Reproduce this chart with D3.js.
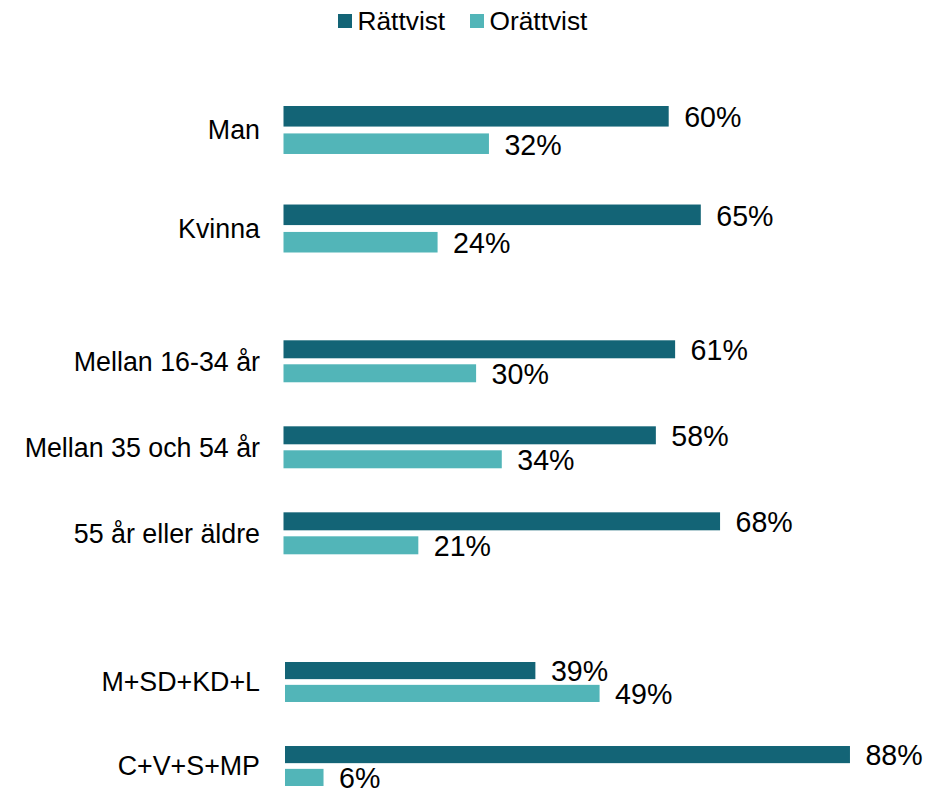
<!DOCTYPE html>
<html>
<head>
<meta charset="utf-8">
<script src="https://cdn.jsdelivr.net/npm/d3@7"></script>
<style>
  body { margin: 0; background: #fff; }
  text { font-family: "Liberation Sans", Arial, sans-serif; fill: #000; }
</style>
</head>
<body>
<script>
// data
const kategorier = ["Man", "Kvinna", "Mellan 16-34 år", "Mellan 35 och 54 år", "55 år eller äldre", "M+SD+KD+L", "C+V+S+MP"]
const grupp = [0, 0, 1, 1, 1, 2, 2]
const rattvist = [60, 65, 61, 58, 68, 39, 88]
const orattvist = [32, 24, 30, 34, 21, 49, 6]
const serier = ["Rättvist", "Orättvist"]
const farger = ["#136476", "#52b5b8"]

const width = 949, height = 790

// each group is its own small panel
const paneler = [
    {top: 106, bottom: 252.5, left: 283.5, pad: 0.513},
    {top: 340.3, bottom: 554.3, left: 283.5, pad: 0.512},
    {top: 662, bottom: 786, left: 285, pad: 0.524}
]

const svg = d3.select("body")
    .append("svg")
        .attr("width", width)
        .attr("height", height)

const x = d3.scaleLinear()
    .domain([0, 100])
    .range([0, 642])

const color = d3.scaleOrdinal().domain(serier).range(farger)

paneler.forEach(function (p, gi) {
    const rader = kategorier
        .map((k, i) => ({kat: k, Rättvist: rattvist[i], Orättvist: orattvist[i], g: grupp[i]}))
        .filter(d => d.g == gi)

    const y0 = d3.scaleBand()
        .domain(rader.map(d => d.kat))
        .range([p.top, p.bottom])
        .paddingInner(p.pad)
        .paddingOuter(0)

    const y1 = d3.scaleBand()
        .domain(serier)
        .range([0, y0.bandwidth()])
        .paddingInner(0.25)

    const g = svg.append("g")

    // category labels
    g.selectAll(".kat")
        .data(rader)
        .join("text")
            .attr("class", "kat")
            .attr("x", 260)
            .attr("y", d => y0(d.kat) + y0.bandwidth() / 2)
            .attr("dy", "0.35em")
            .attr("text-anchor", "end")
            .style("font-size", "26.8px")
            .text(d => d.kat)

    const rad = g.selectAll(".rad")
        .data(rader)
        .join("g")
            .attr("class", "rad")
            .attr("transform", d => "translate(" + p.left + "," + y0(d.kat) + ")")

    const staplar = rad.selectAll("g")
        .data(d => serier.map(s => ({serie: s, v: d[s]})))
        .join("g")

    staplar.append("rect")
        .attr("x", 0)
        .attr("y", d => y1(d.serie))
        .attr("width", d => x(d.v))
        .attr("height", y1.bandwidth())
        .attr("fill", d => color(d.serie))

    staplar.append("text")
        .attr("x", d => x(d.v) + 15.5)
        .attr("y", d => y1(d.serie) + y1.bandwidth() / 2)
        .attr("dy", "0.38em")
        .style("font-size", "28.6px")
        .text(d => d.v + "%")
})

// legend
const legendPos = [338, 470]
const legend = svg.append("g")
serier.forEach(function (s, i) {
    legend.append("rect")
        .attr("x", legendPos[i])
        .attr("y", 14)
        .attr("width", 14)
        .attr("height", 14)
        .attr("fill", color(s))
    legend.append("text")
        .attr("x", legendPos[i] + 19.5)
        .attr("y", 30)
        .style("font-size", "26.3px")
        .text(s)
})
</script>
</body>
</html>
